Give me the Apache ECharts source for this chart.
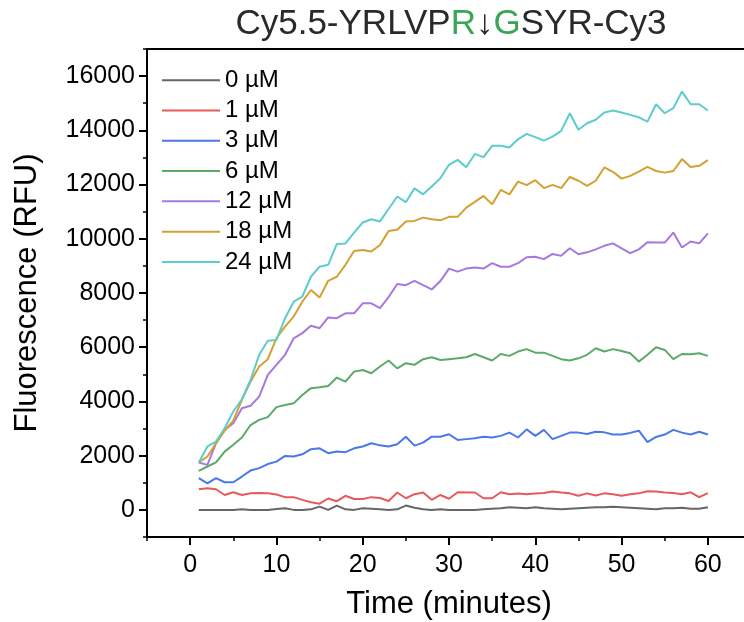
<!DOCTYPE html>
<html>
<head>
<meta charset="utf-8">
<script src="https://cdn.jsdelivr.net/npm/echarts@6/dist/echarts.min.js"></script>
<style>html,body{margin:0;padding:0;background:#fff;}#c{width:744px;height:622px;}</style>
</head>
<body>
<div id="c"></div>
<script>
const minutes = [1,2,3,4,5,6,7,8,9,10,11,12,13,14,15,16,17,18,19,20,21,22,23,24,25,26,27,28,29,30,31,32,33,34,35,36,37,38,39,40,41,42,43,44,45,46,47,48,49,50,51,52,53,54,55,56,57,58,59,60];
const seriesNames = ['0 µM','1 µM','3 µM','6 µM','12 µM','18 µM','24 µM'];
const c0 = [0,0,0,0,0,20,0,0,0,30,60,0,0,20,120,0,160,20,0,60,40,20,0,20,160,80,20,0,20,0,0,0,0,20,40,60,100,80,60,100,60,40,20,40,60,80,100,100,120,100,80,60,40,20,60,60,80,40,40,100];
const c1 = [760,800,760,550,650,550,610,620,610,570,470,470,370,280,230,420,320,520,400,400,470,440,330,640,430,580,640,370,550,410,650,640,640,430,430,650,580,600,580,600,620,680,640,610,520,610,530,610,580,520,580,610,690,680,640,620,580,650,470,620];
const c3 = [1170,980,1170,1020,1020,1230,1450,1540,1690,1780,1990,1970,2050,2240,2270,2090,2150,2130,2270,2340,2460,2380,2340,2420,2700,2370,2480,2700,2700,2790,2580,2610,2640,2700,2670,2730,2850,2670,2970,2730,2950,2610,2730,2850,2850,2800,2880,2860,2780,2780,2840,2920,2500,2690,2780,2950,2850,2780,2880,2780];
const c6 = [1440,1600,1750,2150,2400,2670,3130,3320,3420,3790,3870,3930,4240,4490,4520,4570,4880,4730,5100,5160,5040,5290,5510,5220,5410,5350,5560,5630,5530,5560,5590,5630,5750,5630,5510,5750,5680,5840,5930,5800,5800,5680,5560,5510,5590,5720,5960,5840,5930,5860,5780,5470,5720,6000,5900,5560,5750,5740,5780,5680];
const c12 = [1750,1660,2460,2950,3200,3750,3840,4180,4980,5350,5720,6330,6520,6790,6700,7100,7070,7250,7250,7620,7620,7440,7850,8330,8290,8450,8290,8130,8440,8900,8790,8900,8940,8900,9100,8970,8970,9100,9320,9340,9250,9440,9370,9650,9430,9500,9610,9740,9830,9650,9470,9610,9870,9860,9860,10230,9680,9900,9830,10200];
const c18 = [1750,1970,2460,2920,3290,4060,4730,5290,5560,6330,6760,7130,7680,8110,7830,8450,8600,9040,9550,9590,9530,9770,10290,10330,10640,10660,10780,10720,10680,10810,10810,11150,11360,11580,11270,11800,11640,12110,11980,12160,11870,11990,11870,12280,12140,11950,12140,12630,12470,12220,12320,12480,12650,12500,12440,12500,12940,12650,12690,12900];
const c24 = [1750,2340,2520,3010,3630,4080,4790,5720,6240,6270,7070,7680,7870,8600,8970,9040,9810,9830,10230,10600,10720,10640,11100,11560,11350,11860,11640,11930,12230,12730,12910,12640,13130,13010,13430,13430,13370,13670,13870,13750,13620,13770,13980,14630,14020,14260,14390,14660,14730,14660,14570,14480,14320,14960,14630,14820,15430,14960,14960,14730];
const yTickLabels = [0,2000,4000,6000,8000,10000,12000,14000,16000];
const xTickLabels = [0,10,20,30,40,50,60];

const allValues = [c0,c1,c3,c6,c12,c18,c24];
const colors = ['#666666','#e85a5a','#4a78e8','#5aaa6a','#a678e0','#d4a032','#5ccccc'];
const FONT = '"Liberation Sans", Arial, sans-serif';

const chart = echarts.init(document.getElementById('c'), null, {renderer:'canvas'});
const series = seriesNames.map((name,i)=>({
  name, type:'line', xAxisIndex:0, yAxisIndex:0,
  data: minutes.map((t,k)=>[t, allValues[i][k]]),
  showSymbol:false, symbol:'none',
  lineStyle:{color:colors[i], width:2},
  itemStyle:{color:colors[i]},
  emphasis:{disabled:true}, animation:false
}));

chart.setOption({
  animation:false,
  title:{
    text:'{a|Cy5.5-YRLVP}{g|R}{a|↓}{g|G}{a|SYR-Cy3}',
    left:446, textAlign:'center', top:2,
    textStyle:{fontWeight:'normal', rich:{
      a:{fontSize:35, color:'#2a2a2a', fontFamily:FONT, fontWeight:'normal'},
      g:{fontSize:35, color:'#3aa655', fontFamily:FONT, fontWeight:'normal'}
    }}
  },
  legend:{
    orient:'vertical', left:162, top:65, padding:0, itemGap:0,
    itemWidth:58, itemHeight:2, icon:'rect',
    textStyle:{fontSize:24, fontFamily:FONT, color:'#000', lineHeight:30.3, padding:[0,0,0,0]},
    data: seriesNames
  },
  grid:{left:147, right:-7, top:49, bottom:85, containLabel:false, outerBoundsMode:'none'},
  xAxis:[
    {type:'value', min:-5, max:65, interval:5, position:'bottom',
     name:'Time (minutes)', nameLocation:'middle', nameGap:52,
     nameTextStyle:{fontSize:31, fontFamily:FONT, color:'#000'},
     axisLine:{show:true, onZero:false, lineStyle:{color:'#000', width:2}},
     axisTick:{show:true, inside:false, length:8, customValues:xTickLabels, lineStyle:{color:'#000', width:2}},
     axisLabel:{show:true, customValues:xTickLabels, fontSize:25, fontFamily:FONT, color:'#000', margin:16, formatter:v=>String(v)},
     splitLine:{show:false}},
    {type:'value', min:-5, max:65, interval:5, position:'top',
     axisLine:{show:true, onZero:false, lineStyle:{color:'#000', width:2}},
     axisTick:{show:false}, axisLabel:{show:false}, splitLine:{show:false}},
    {type:'value', min:-5, max:65, interval:5, position:'bottom',
     axisLine:{show:false, onZero:false},
     axisTick:{show:true, length:4, lineStyle:{color:'#000', width:1.5}},
     axisLabel:{show:false}, splitLine:{show:false}}
  ],
  yAxis:[
    {type:'value', min:-1000, max:17000, interval:1000, position:'left',
     name:'Fluorescence (RFU)', nameLocation:'middle', nameGap:104, nameRotate:90,
     nameTextStyle:{fontSize:31, fontFamily:FONT, color:'#000'},
     axisLine:{show:true, onZero:false, lineStyle:{color:'#000', width:2}},
     axisTick:{show:true, length:8, customValues:yTickLabels, lineStyle:{color:'#000', width:2}},
     axisLabel:{show:true, customValues:yTickLabels, fontSize:25, fontFamily:FONT, color:'#000', margin:12, formatter:v=>String(v)},
     splitLine:{show:false}},
    {type:'value', min:-1000, max:17000, interval:1000, position:'left',
     axisLine:{show:false, onZero:false},
     axisTick:{show:true, length:4, lineStyle:{color:'#000', width:1.5}},
     axisLabel:{show:false}, splitLine:{show:false}}
  ],
  series
});
</script>
</body>
</html>
